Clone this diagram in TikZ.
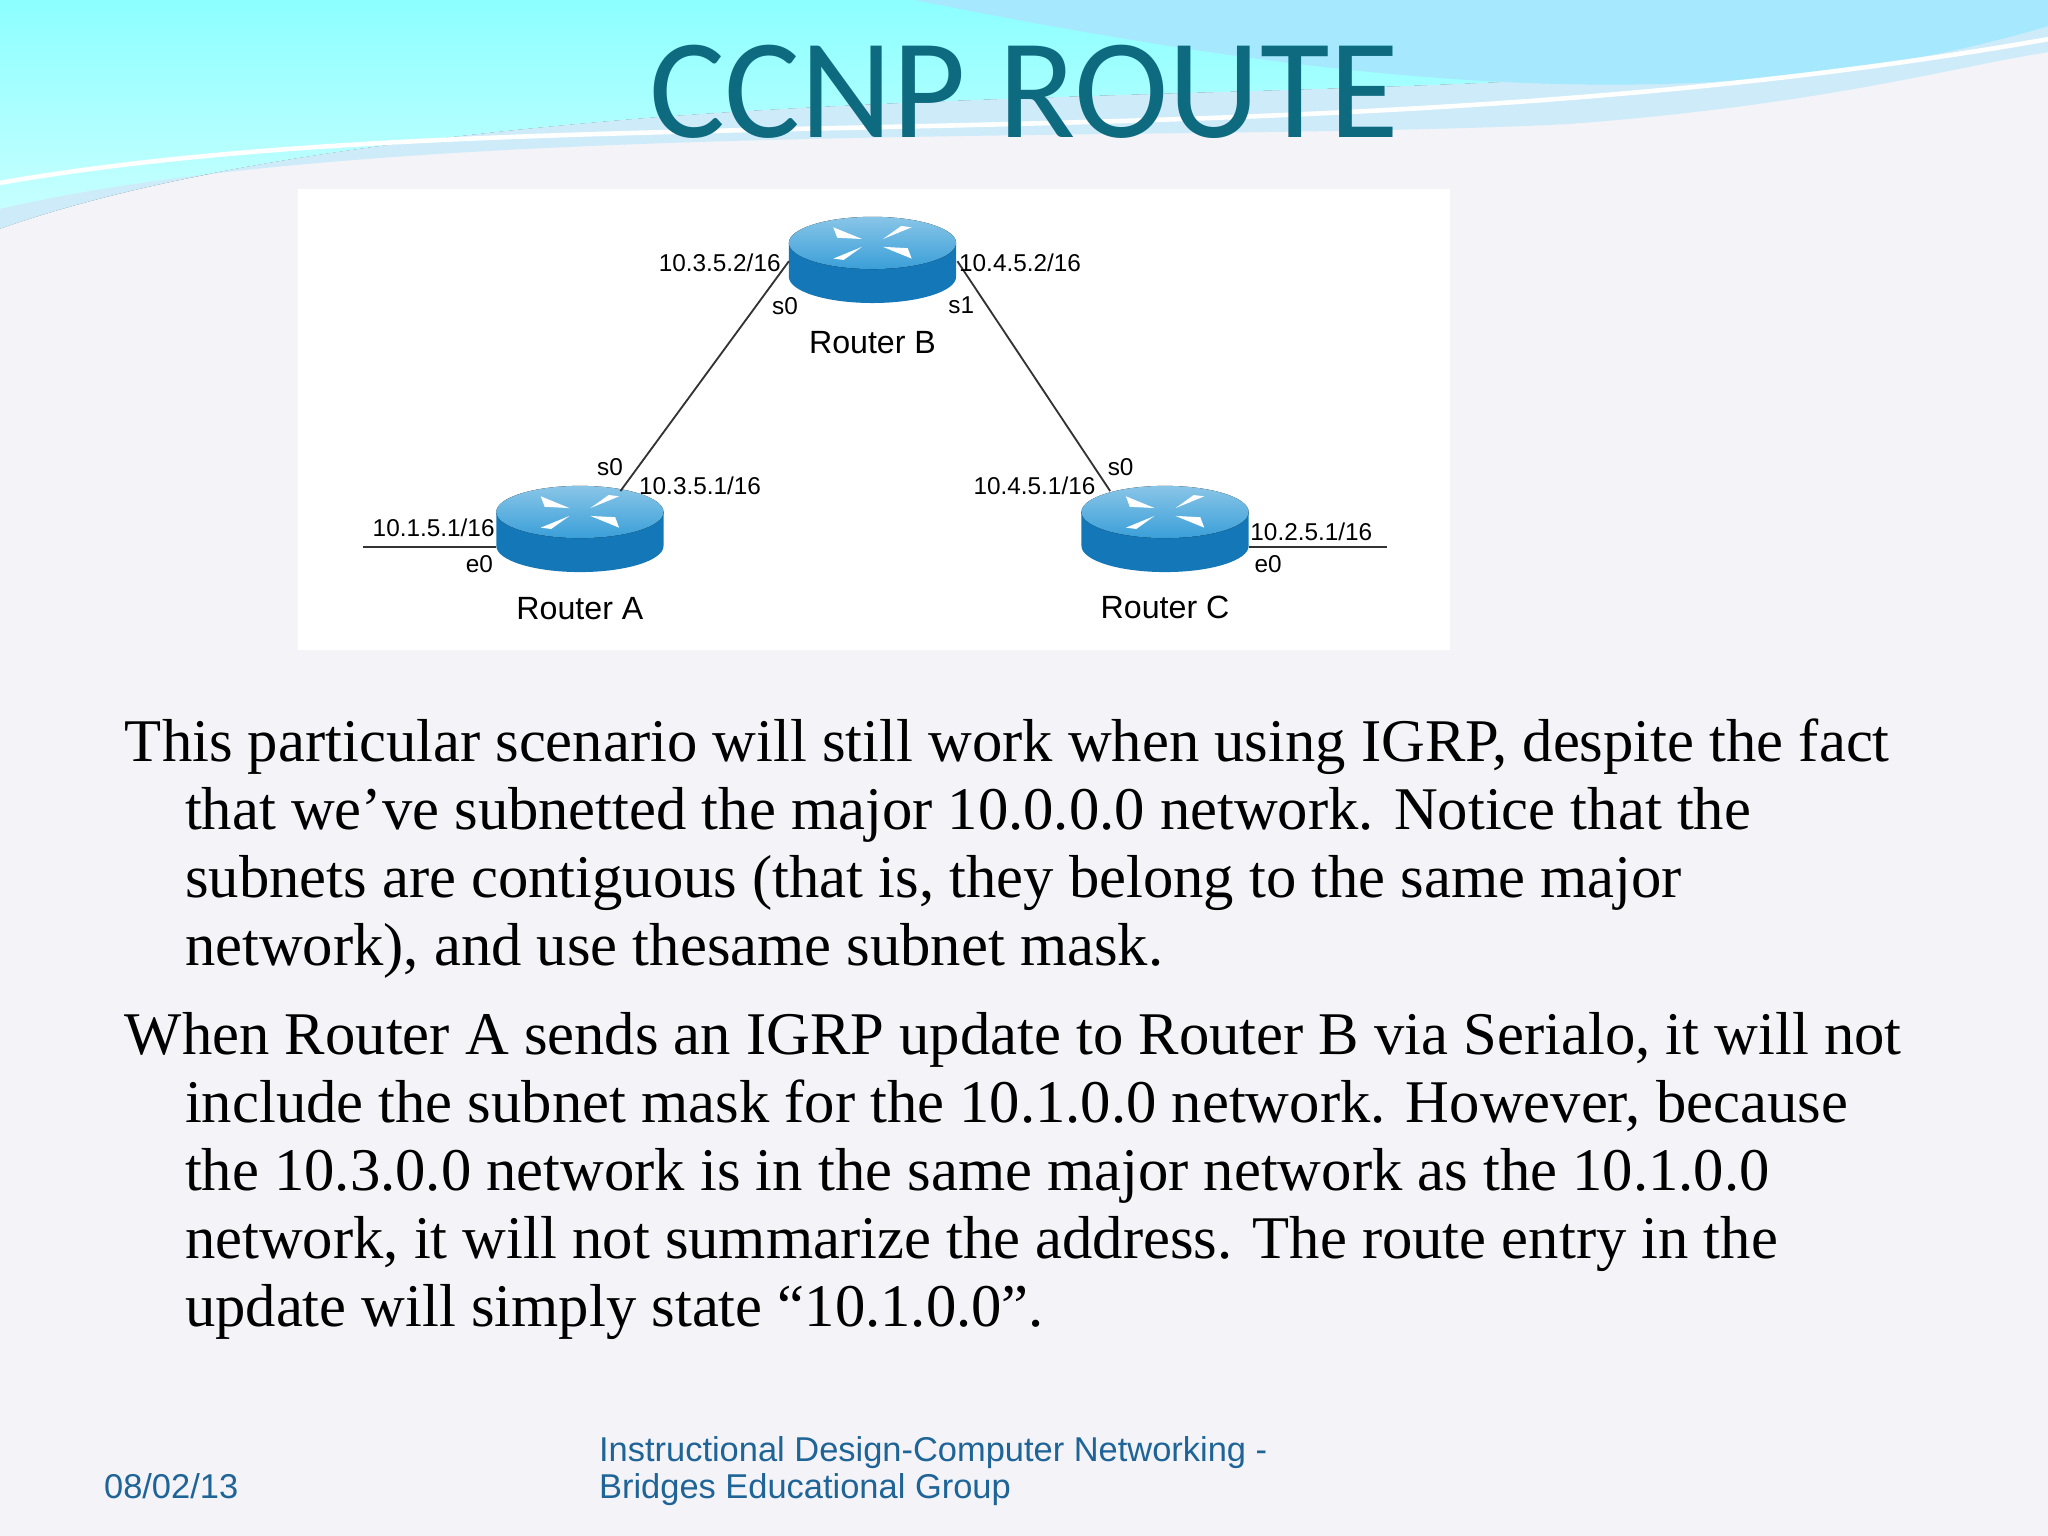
\documentclass[tikz,border=0pt]{standalone}
\usepackage{fontspec}
\setmainfont{Liberation Serif}
\newfontfamily\titlefont{Carlito}
\newfontfamily\arialf{Liberation Sans}
\usetikzlibrary{calc}
\definecolor{bg}{HTML}{F3F3F8}
\definecolor{titlec}{HTML}{0E6A7E}
\definecolor{footc}{HTML}{1F6497}
\definecolor{rtop}{HTML}{3A9FD8}
\definecolor{rside}{HTML}{1478B8}
\tikzset{
  lbl/.style={font=\arialf\fontsize{5.3}{6}\selectfont, inner sep=0pt},
  rname/.style={font=\arialf\fontsize{7}{8}\selectfont, inner sep=0pt},
  link/.style={draw=black!80, line width=0.4pt},
}
\newcommand{\router}[2]{%
  \begin{scope}[shift={#1}]
   \fill[rside] (-64,0) -- (-64,26) arc[start angle=180,end angle=0,x radius=64,y radius=20] -- (64,0) -- cycle;
   \fill[top color=rtop!60!white,bottom color=rtop] (0,0) ellipse[x radius=64,y radius=20];
   \fill[white] (-8,-3) -- (-30,-12) -- (-27,-4) -- cycle;
   \fill[white] (8,3) -- (30,12) -- (27,4) -- cycle;
   \fill[white] (8,-3) -- (30,-12) -- (22,-13) -- cycle;
   \fill[white] (-8,3) -- (-30,12) -- (-22,13) -- cycle;
   \coordinate (#2) at (0,0);
  \end{scope}}
\begin{document}
\begin{tikzpicture}[x=0.01cm,y=-0.01cm]
\fill[bg] (0,0) rectangle (1568,1176);
\useasboundingbox (0,0) rectangle (1568,1176);
% waves
\fill[top color=cyan!45!white,bottom color=cyan!20!white] (0,0) -- (1568,0) -- (1568,15) .. controls (1300,80) and (900,60) .. (500,90) .. controls (250,110) and (100,140) .. (0,175) -- cycle;
\fill[cyan!30!white!60!bg] (1568,15) .. controls (1300,80) and (900,60) .. (500,90) .. controls (250,110) and (100,140) .. (0,175) -- (0,160) .. controls (300,90) and (900,110) .. (1200,95) .. controls (1400,80) and (1500,50) .. (1568,40) -- cycle;
\fill[blue!25!cyan!35!white] (700,0) .. controls (1000,60) and (1300,100) .. (1568,20) -- (1568,0) -- cycle;
\draw[white,line width=1pt] (0,140) .. controls (400,70) and (1000,130) .. (1568,30);
\node[font=\titlefont\fontsize{31}{36}\selectfont, text=titlec] (title) at (784,70) {CCNP ROUTE};
% diagram box
\fill[white] (228,145) rectangle (1110,498);
\router{(668,186)}{rb}
\router{(444,392)}{ra}
\router{(892,392)}{rc}
\coordinate (bs0) at (604,200); \coordinate (bs1) at (733,200);
\coordinate (as0) at (475,376); \coordinate (cs0) at (850,376);
\draw[link] (bs0) -- (as0);
\draw[link] (bs1) -- (cs0);
\coordinate (ae) at (380,419); \coordinate (aend) at (278,419);
\coordinate (ce) at (956,419); \coordinate (cend) at (1062,419);
\draw[link] (ae) -- (aend);
\draw[link] (ce) -- (cend);
\node[rname] (nb) at (668,262) {Router B};
\node[rname] (na) at (444,466) {Router A};
\node[rname] (nc) at (892,465) {Router C};
\node[lbl] (l1) at (551,201) {10.3.5.2/16};
\node[lbl] (l2) at (781,201) {10.4.5.2/16};
\node[lbl] (l3) at (601,234) {s0};
\node[lbl] (l4) at (736,234) {s1};
\node[lbl] (l5) at (467,358) {s0};
\node[lbl] (l6) at (536,372) {10.3.5.1/16};
\node[lbl] (l7) at (792,372) {10.4.5.1/16};
\node[lbl] (l8) at (858,358) {s0};
\node[lbl] (l9) at (332,404) {10.1.5.1/16};
\node[lbl] (l10) at (367,432) {e0};
\node[lbl] (l11) at (1004,407) {10.2.5.1/16};
\node[lbl] (l12) at (971,432) {e0};
% body text
\node[anchor=north west, inner sep=0pt, align=left, font=\fontsize{13.2}{14.8}\selectfont] (body) at (95,550) {%
This particular scenario will still work when using IGRP, despite the fact\\
\hspace*{0.46cm}that we’ve subnetted the major 10.0.0.0 network. Notice that the\\
\hspace*{0.46cm}subnets are contiguous (that is, they belong to the same major\\
\hspace*{0.46cm}network), and use thesame subnet mask.\\[0.16cm]
When Router A sends an IGRP update to Router B via Serialo, it will not\\
\hspace*{0.46cm}include the subnet mask for the 10.1.0.0 network. However, because\\
\hspace*{0.46cm}the 10.3.0.0 network is in the same major network as the 10.1.0.0\\
\hspace*{0.46cm}network, it will not summarize the address. The route entry in the\\
\hspace*{0.46cm}update will simply state “10.1.0.0”.};
% footer
\node[anchor=west, inner sep=0pt, text=footc, font=\arialf\fontsize{7.5}{9}\selectfont] (date) at (79,1138) {08/02/13};
\node[anchor=north west, inner sep=0pt, align=left, text=footc, font=\arialf\fontsize{7.5}{8}\selectfont] (foot) at (458,1099) {Instructional Design-Computer Networking -\\Bridges Educational Group};
\end{tikzpicture}
\end{document}
